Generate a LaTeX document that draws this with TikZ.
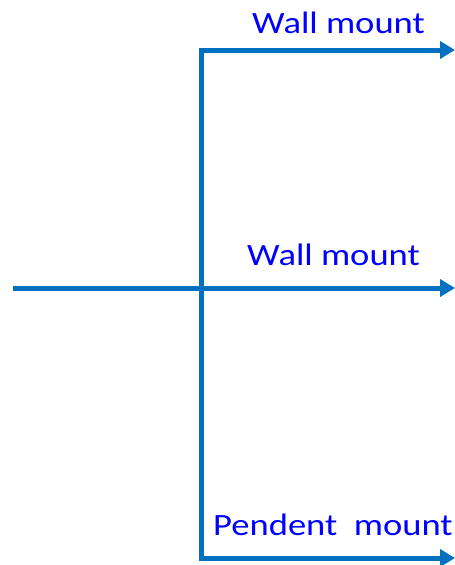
\documentclass[tikz,border=0pt]{standalone}
\usepackage{fontspec}
\setmainfont{Carlito}
\usetikzlibrary{arrows.meta}
\definecolor{lineBlue}{RGB}{0, 112, 192}
\definecolor{textBlue}{RGB}{0, 0, 255}
\newcommand{\mountlabel}[1]{\scalebox{1.18}[1]{#1}}

\begin{document}
\begin{tikzpicture}[x=1pt, y=-1pt,
    feed/.style={draw=lineBlue, line width=5pt, line join=miter,
      arrows={-Triangle[length=15pt, width=17pt]}},
    mountText/.style={textBlue, anchor=base west, inner sep=0pt,
      font=\fontsize{31pt}{36pt}\selectfont}]
        \useasboundingbox (0,0) rectangle (455,565);

        % Points of the branching
        \coordinate (in) at (13,288);
        \coordinate (top) at (201,50);
        \coordinate (bot) at (201,558);
        \coordinate (topEnd) at (455,50);
        \coordinate (midEnd) at (455,288);
        \coordinate (botEnd) at (455,558);

        % Feed lines
        \draw[feed, arrows={Triangle[length=15pt, width=17pt]-Triangle[length=15pt, width=17pt]}]
          (botEnd) -- (bot) -- (top) -- (topEnd);
        \draw[feed] (in) -- (midEnd);

        % Labels
        \node[mountText] (wallTop) at (252,33) {\mountlabel{Wall mount}};
        \node[mountText] (wallMid) at (247,265) {\mountlabel{Wall mount}};
        \node[mountText] (pendent) at (213,535) {\mountlabel{Pendent\ \ mount}};
      \end{tikzpicture}
\end{document}
